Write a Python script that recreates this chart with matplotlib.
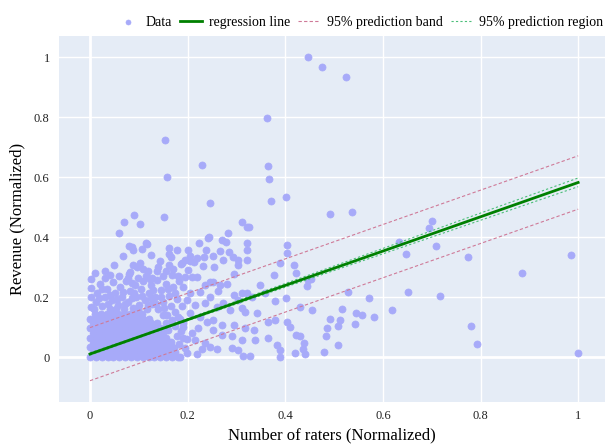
import matplotlib
matplotlib.use('Agg')
import matplotlib.pyplot as plt
import numpy as np

plt.rcParams['font.family'] = ['Liberation Serif', 'DejaVu Serif']

# sparse / readable points (x = raters, y = revenue, both normalized)
sparse_pts = [
    (0.446, 1.000), (0.475, 0.968), (0.524, 0.933), (0.363, 0.798), (0.153, 0.724),
    (0.230, 0.639), (0.365, 0.637), (0.158, 0.599), (0.366, 0.595), (0.246, 0.514),
    (0.370, 0.521), (0.402, 0.533), (0.492, 0.477), (0.537, 0.482), (0.091, 0.472),
    (0.070, 0.449), (0.102, 0.443), (0.152, 0.466), (0.311, 0.449), (0.321, 0.432),
    (0.326, 0.435), (0.701, 0.453), (0.694, 0.430), (0.633, 0.383), (0.709, 0.369),
    (0.647, 0.343), (0.775, 0.333), (0.986, 0.340), (0.885, 0.280), (0.529, 0.216),
    (0.652, 0.216), (0.572, 0.197), (0.717, 0.203), (0.517, 0.159), (0.618, 0.157),
    (0.491, 0.126), (0.544, 0.146), (0.558, 0.139), (0.581, 0.134), (0.512, 0.122),
    (0.485, 0.098), (0.508, 0.104), (0.543, 0.109), (0.483, 0.071), (0.509, 0.039),
    (0.480, 0.016), (0.780, 0.104), (0.792, 0.043), (1.000, 0.013),
    (0.445, 0.238), (0.453, 0.259), (0.430, 0.168), (0.430, 0.071), (0.439, 0.048),
    (0.436, 0.026), (0.440, 0.010), (0.454, 0.156),
    (0.282, 0.414), (0.223, 0.380), (0.241, 0.397), (0.243, 0.401), (0.270, 0.391),
    (0.278, 0.385), (0.322, 0.380), (0.404, 0.372), (0.404, 0.348), (0.237, 0.357),
    (0.266, 0.352), (0.285, 0.350), (0.322, 0.357), (0.204, 0.338), (0.219, 0.331),
    (0.234, 0.334), (0.253, 0.338), (0.292, 0.333), (0.303, 0.325), (0.321, 0.325),
    (0.195, 0.325),
    (0.189, 0.312), (0.204, 0.320), (0.213, 0.317), (0.232, 0.304), (0.254, 0.301),
    (0.273, 0.323), (0.304, 0.307), (0.195, 0.268), (0.208, 0.266), (0.219, 0.268),
    (0.236, 0.240), (0.246, 0.251), (0.253, 0.251), (0.266, 0.240), (0.294, 0.277),
    (0.280, 0.242), (0.262, 0.221), (0.225, 0.218), (0.190, 0.232), (0.205, 0.212),
    (0.348, 0.240), (0.389, 0.312), (0.376, 0.273), (0.417, 0.307), (0.423, 0.279),
    (0.447, 0.257), (0.294, 0.207), (0.311, 0.214), (0.304, 0.190), (0.321, 0.212),
    (0.331, 0.201), (0.359, 0.212), (0.379, 0.188), (0.402, 0.198), (0.273, 0.179),
    (0.260, 0.168), (0.287, 0.157), (0.311, 0.162), (0.318, 0.151), (0.342, 0.146),
    (0.365, 0.118), (0.379, 0.123), (0.403, 0.118), (0.410, 0.101), (0.335, 0.090),
    (0.318, 0.096), (0.294, 0.107), (0.270, 0.107), (0.253, 0.090), (0.270, 0.073),
    (0.290, 0.070), (0.311, 0.057), (0.338, 0.057), (0.365, 0.062), (0.383, 0.040),
    (0.389, 0.023), (0.423, 0.073), (0.420, 0.012), (0.389, 0.001), (0.328, 0.003),
    (0.314, 0.003), (0.304, 0.023), (0.290, 0.029), (0.260, 0.026), (0.246, 0.034),
    (0.229, 0.026), (0.219, 0.010), (0.198, 0.014), (0.236, 0.046), (0.215, 0.057),
    (0.198, 0.059), (0.208, 0.079), (0.222, 0.096), (0.239, 0.118), (0.253, 0.123),
    (0.225, 0.134), (0.205, 0.146), (0.215, 0.173), (0.236, 0.179), (0.198, 0.190),
    (0.246, 0.201), (0.191, 0.101), (0.190, 0.062),
    (0.059, 0.413), (0.079, 0.369), (0.087, 0.367), (0.089, 0.356), (0.114, 0.381),
    (0.116, 0.377), (0.107, 0.360), (0.125, 0.340), (0.067, 0.336), (0.143, 0.321),
    (0.162, 0.363), (0.178, 0.358), (0.162, 0.342), (0.165, 0.333), (0.186, 0.311),
    (0.049, 0.308), (0.031, 0.286), (0.002, 0.260), (0.089, 0.306), (0.097, 0.299),
    (0.102, 0.312), (0.109, 0.293), (0.082, 0.282), (0.079, 0.277), (0.119, 0.287),
    (0.137, 0.287), (0.156, 0.287), (0.162, 0.306), (0.169, 0.272), (0.180, 0.270),
    (0.201, 0.290), (0.098, 0.264), (0.123, 0.261), (0.149, 0.270), (0.078, 0.264),
    (0.200, 0.357),
]

# semi-dense band above and right of the core blob
band_pts = [
    (0.002, 0.168), (0.002, 0.200), (0.002, 0.230), (0.012, 0.185), (0.015, 0.215),
    (0.020, 0.245), (0.025, 0.170), (0.030, 0.200), (0.035, 0.228), (0.040, 0.160),
    (0.045, 0.190), (0.048, 0.250), (0.052, 0.215), (0.058, 0.172), (0.062, 0.235),
    (0.065, 0.200), (0.070, 0.160), (0.074, 0.252), (0.078, 0.185), (0.082, 0.220),
    (0.088, 0.165), (0.092, 0.240), (0.095, 0.200), (0.100, 0.175), (0.104, 0.228),
    (0.108, 0.255), (0.112, 0.190), (0.116, 0.160), (0.120, 0.215), (0.125, 0.240),
    (0.128, 0.178), (0.133, 0.200), (0.138, 0.258), (0.140, 0.160), (0.145, 0.225),
    (0.150, 0.185), (0.155, 0.245), (0.158, 0.140), (0.162, 0.205), (0.166, 0.170),
    (0.170, 0.232), (0.175, 0.150), (0.178, 0.195), (0.182, 0.255), (0.185, 0.128),
    (0.188, 0.170), (0.060, 0.270), (0.115, 0.270), (0.030, 0.265), (0.140, 0.300),
    (0.170, 0.292), (0.160, 0.010), (0.172, 0.030), (0.165, 0.050), (0.178, 0.070),
    (0.160, 0.090), (0.175, 0.105), (0.168, 0.125), (0.185, 0.000), (0.182, 0.045),
    (0.155, 0.115), (0.186, 0.088), (0.150, 0.140), (0.170, 0.010),
    (0.008, 0.160), (0.018, 0.198), (0.024, 0.228), (0.036, 0.176), (0.042, 0.208),
    (0.054, 0.160), (0.056, 0.195), (0.068, 0.218), (0.072, 0.178), (0.086, 0.196),
    (0.090, 0.215), (0.098, 0.158), (0.106, 0.205), (0.118, 0.172), (0.124, 0.196),
    (0.130, 0.222), (0.136, 0.178), (0.146, 0.200), (0.152, 0.162), (0.160, 0.228),
    (0.010, 0.280), (0.040, 0.272), (0.086, 0.248), (0.128, 0.262), (0.174, 0.212),
    (0.180, 0.135), (0.190, 0.115), (0.194, 0.030), (0.152, 0.060), (0.145, 0.095),
]

# dense core, read row by row (revenue level -> raters positions)
core_rows_y = [0.000, 0.016, 0.032, 0.048, 0.064, 0.080, 0.096, 0.112, 0.128, 0.144]
core_rows_x = [
    [0.000, 0.012, 0.024, 0.036, 0.048, 0.060, 0.072, 0.084, 0.096, 0.108, 0.120, 0.132, 0.144, 0.156, 0.168, 0.180],
    [0.006, 0.018, 0.030, 0.042, 0.054, 0.066, 0.078, 0.090, 0.102, 0.114, 0.126, 0.138, 0.150, 0.162, 0.174],
    [0.000, 0.012, 0.024, 0.036, 0.048, 0.060, 0.072, 0.084, 0.096, 0.108, 0.120, 0.132, 0.144, 0.156, 0.168],
    [0.006, 0.018, 0.030, 0.042, 0.054, 0.066, 0.078, 0.090, 0.102, 0.114, 0.126, 0.138, 0.150, 0.162],
    [0.000, 0.012, 0.024, 0.036, 0.048, 0.060, 0.072, 0.084, 0.096, 0.108, 0.120, 0.132, 0.144, 0.156],
    [0.006, 0.018, 0.030, 0.042, 0.054, 0.066, 0.078, 0.090, 0.102, 0.114, 0.126, 0.138, 0.150],
    [0.000, 0.012, 0.024, 0.036, 0.048, 0.060, 0.072, 0.084, 0.096, 0.108, 0.120, 0.132, 0.144],
    [0.006, 0.018, 0.030, 0.042, 0.054, 0.066, 0.078, 0.090, 0.102, 0.114, 0.126, 0.138],
    [0.000, 0.012, 0.024, 0.036, 0.048, 0.060, 0.072, 0.084, 0.096, 0.108, 0.120],
    [0.010, 0.022, 0.034, 0.046, 0.058, 0.070, 0.082, 0.094, 0.106],
]

# regression line and bands, read at the ends / along x
fit_x = [0.0, 1.0]
fit_y = [0.010, 0.582]
band_lo = [-0.079, 0.493]
band_hi = [0.098, 0.671]
region_x = [0.0, 0.1, 0.2, 0.4, 0.6, 0.8, 1.0]
region_lo = [0.006, 0.064, 0.121, 0.233, 0.344, 0.456, 0.568]
region_hi = [0.014, 0.070, 0.128, 0.245, 0.362, 0.480, 0.597]

xs = [p[0] for p in sparse_pts + band_pts]
ys = [p[1] for p in sparse_pts + band_pts]
for yv, row in zip(core_rows_y, core_rows_x):
    xs += row
    ys += [yv] * len(row)

fig = plt.figure(figsize=(6.05, 4.44), dpi=100)
ax = fig.add_axes([0.0983, 0.0946, 0.9017, 0.824])
ax.set_facecolor('#E5ECF6')
for s in ax.spines.values():
    s.set_visible(False)

ticks = [0, 0.2, 0.4, 0.6, 0.8, 1]
ticklabels = ['0', '0.2', '0.4', '0.6', '0.8', '1']
ax.set_xticks(ticks)
ax.set_xticklabels(ticklabels)
ax.set_yticks(ticks)
ax.set_yticklabels(ticklabels)
ax.grid(True, color='white', lw=1.0)
ax.set_axisbelow(True)
ax.axhline(0, color='white', lw=2, zorder=0.5)
ax.axvline(0, color='white', lw=2, zorder=0.5)
ax.tick_params(length=0, labelsize=9, colors='#222222')
ax.tick_params(axis='x', pad=6)
ax.tick_params(axis='y', pad=7)

ax.scatter(xs, ys, s=26, color='#A7AAF9', edgecolors='#A7AAF9', linewidths=0.5,
           label='Data', zorder=2)
ax.plot(fit_x, fit_y, color='green', lw=2.0, label='regression line', zorder=4)
ax.plot(fit_x, band_hi, color='#CF7A98', lw=0.8, ls=(0, (3, 2)),
        label='95% prediction band', zorder=3)
ax.plot(fit_x, band_lo, color='#CF7A98', lw=0.8, ls=(0, (3, 2)), zorder=3)
ax.plot(region_x, region_hi, color='#4CBF7A', lw=0.8, ls=(0, (2, 2)),
        label='95% prediction region', zorder=3)
ax.plot(region_x, region_lo, color='#4CBF7A', lw=0.8, ls=(0, (2, 2)), zorder=3)

ax.set_xlim(-0.0625, 1.055)
ax.set_ylim(-0.15, 1.07)
ax.set_xlabel('Number of raters (Normalized)', fontsize=12, labelpad=4)
ax.set_ylabel('Revenue (Normalized)', fontsize=12, labelpad=6)

fig.legend(loc='upper right', bbox_to_anchor=(1.018, 0.993), ncol=4, frameon=False,
           fontsize=10, handlelength=1.6, columnspacing=0.6, handletextpad=0.45,
           markerscale=0.7)

fig.savefig('out.png', dpi=100)
